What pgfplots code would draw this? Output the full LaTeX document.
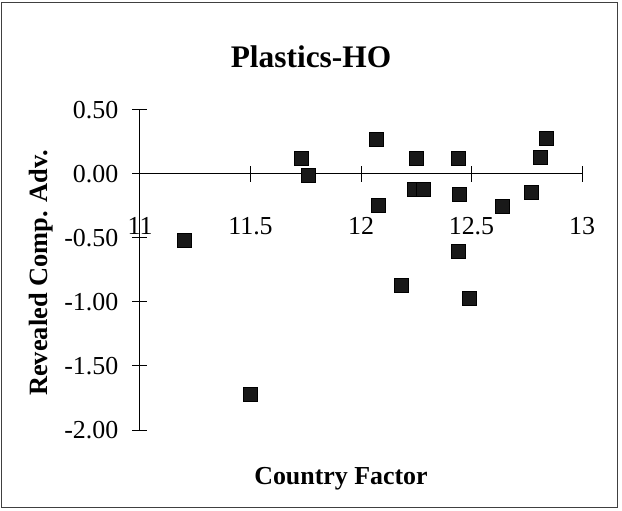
\documentclass[border=0pt]{standalone}
\usepackage{pgfplots}
\pgfplotsset{compat=1.18}
\usepackage{fontspec}
\setmainfont{Liberation Serif}
\begin{document}
\begin{tikzpicture}
\begin{axis}[
  name=ax, at={(0,0)}, anchor=south west,
  scale only axis, width=442bp, height=320bp,
  xmin=11, xmax=13, ymin=-2, ymax=0.5,
  axis x line=middle, axis y line=left,
  axis line style={-, line width=1bp, black},
  hide obscured x ticks=false, hide obscured y ticks=false,
  xtick={11,11.5,12,12.5,13},
  xticklabels={11,11.5,12,12.5,13},
  ytick={-2,-1.5,-1,-0.5,0,0.5},
  yticklabels={-2.00,-1.50,-1.00,-0.50,0.00,0.50},
  tick align=center, major tick length=15bp,
  tick style={line width=1bp, black},
  xticklabel style={anchor=base, yshift=-53bp, inner sep=0pt, font=\fontsize{26}{30}\selectfont},
  yticklabel style={anchor=east, xshift=-14bp, inner sep=0pt, font=\fontsize{26}{30}\selectfont},
  clip=false,
]
\addplot[only marks, mark=square*, mark size=7bp, mark options={fill=black!90, draw=black}] coordinates {
(11.20,-0.52)
(11.50,-1.72)
(11.73,0.12)
(11.76,-0.01)
(12.07,0.27)
(12.08,-0.24)
(12.18,-0.87)
(12.25,0.12)
(12.24,-0.12)
(12.28,-0.12)
(12.44,0.12)
(12.445,-0.16)
(12.44,-0.60)
(12.49,-0.97)
(12.64,-0.25)
(12.77,-0.14)
(12.81,0.13)
(12.84,0.28)
};
\end{axis}
\useasboundingbox (-140bp,-81bp) rectangle (482bp,430bp);
\draw[line width=1bp, black!75] (-138bp,-77bp) rectangle (477bp,427bp);
\node[anchor=base, inner sep=0pt, font=\fontsize{31.5}{36}\selectfont\bfseries] at (171bp,362bp) {Plastics-HO};
\node[anchor=base, inner sep=0pt, font=\fontsize{26}{30}\selectfont\bfseries] at (201bp,-54bp) {Country Factor};
\node[anchor=base, rotate=90, inner sep=0pt, font=\fontsize{26.5}{30}\selectfont\bfseries] at (-92bp,157bp) {Revealed Comp. Adv.};
\end{tikzpicture}
\end{document}
